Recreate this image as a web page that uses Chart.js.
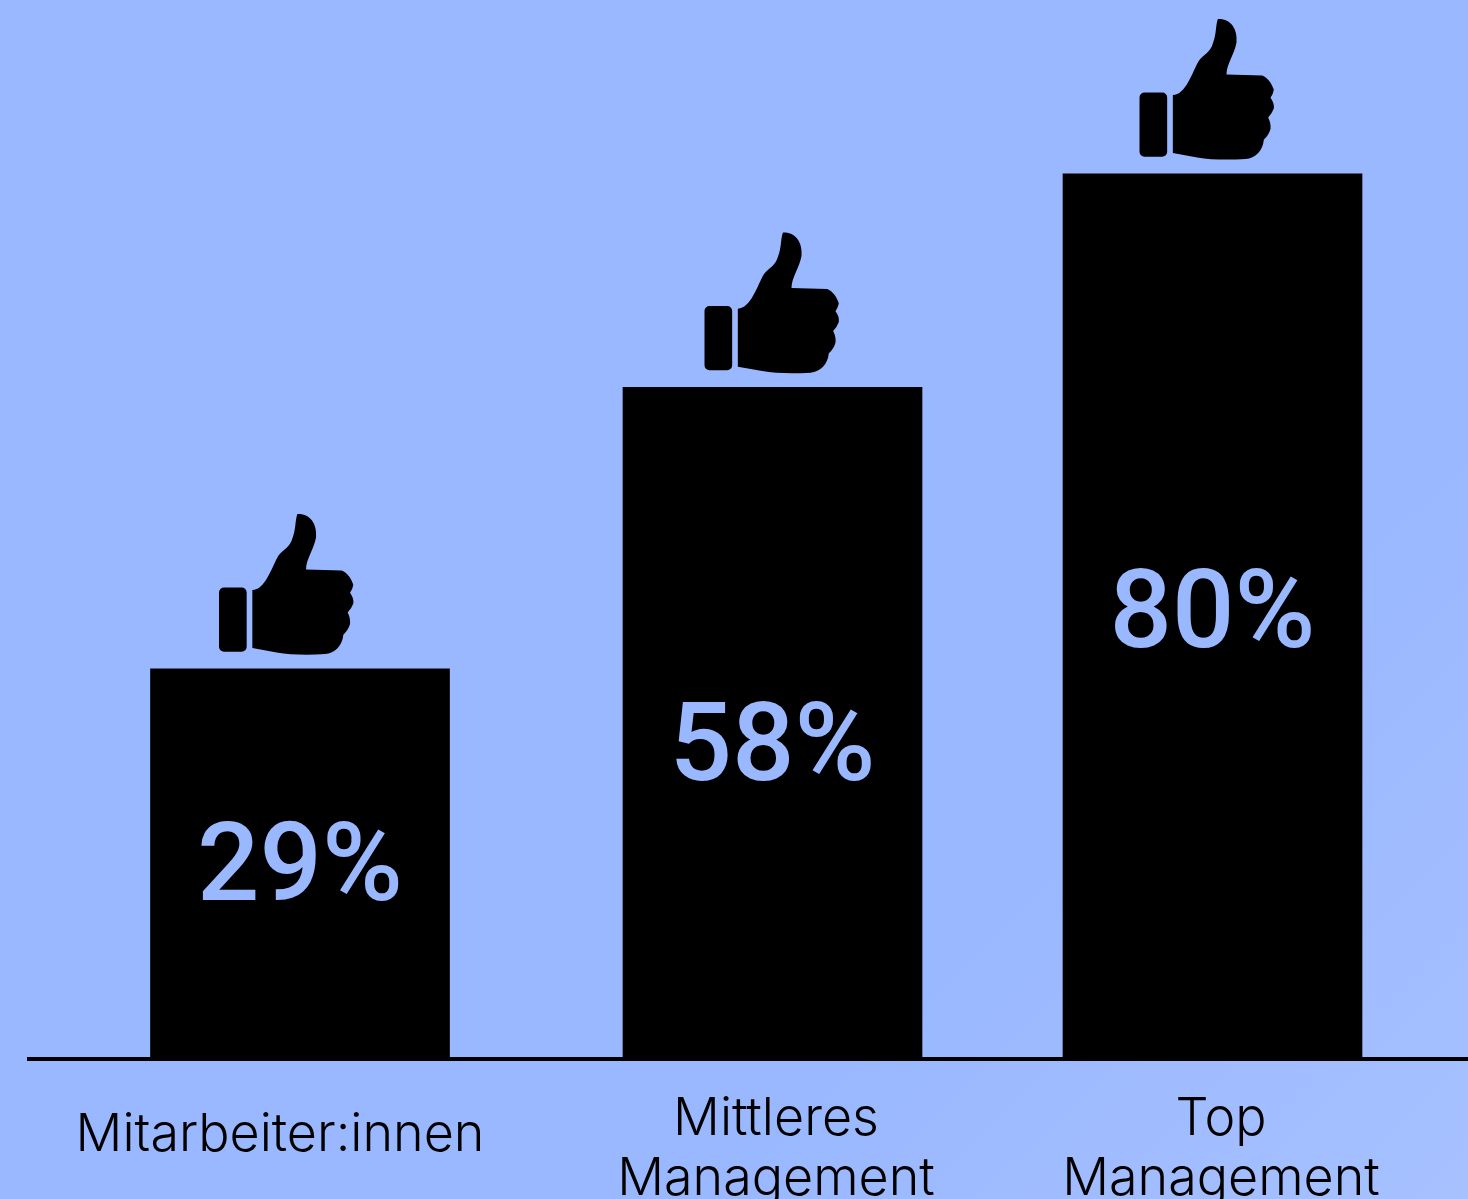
<!DOCTYPE html>
<html lang="de">
<head>
<meta charset="utf-8">
<title>Zustimmung nach Hierarchieebene</title>
<script src="https://cdn.jsdelivr.net/npm/chart.js@4/dist/chart.umd.min.js"></script>
<style>
  html, body { margin: 0; padding: 0; overflow: hidden; }
  body {
    width: 1468px; height: 1199px;
    background: linear-gradient(135deg, #9ab8ff 0%, #9ab8ff 72%, #a7c1ff 100%);
  }
  canvas { display: block; }
</style>
</head>
<body>
<canvas id="chart" width="1468" height="1199"></canvas>
<script>
// Chart data
const categories = ['Mitarbeiter:innen', ['Mittleres', 'Management'], ['Top', 'Management']];
const approvalPercent = [29, 58, 80];

// Layout of the horizontal axis, in units of one bar slot
const barSlots = [0, 1.0356, 2];
const labelSlots = [-0.0438, 1.0433, 2.0186];
const slotRange = [-0.594, 2.56];

// Value axis: the bars rise from below zero
const valueFloor = -11.2;
const valueCeiling = 97.9;

// Decoration placement per bar
const valueLabelHeight = [0.478, 0.457, 0.496];
const thumbShift = [-14, -1, -6];
const thumbGap = 14;
const labelColour = '#9ab8ff';

// Thumbs-up outline, about 135 by 140 px with origin at bottom centre
function thumbPath() {
  const p = new Path2D();
  const s = 1 / 3, ox = -258, oy = -452;
  const X = v => (v + ox) * s, Y = v => (v + oy) * s;
  p.roundRect(X(57), Y(250), 83 * s, 193 * s, 15 * s);
  p.moveTo(X(157), Y(258));
  p.bezierCurveTo(X(195), Y(258), X(215), Y(190), X(235), Y(155));
  p.bezierCurveTo(X(250), Y(135), X(270), Y(130), X(278), Y(100));
  p.bezierCurveTo(X(288), Y(75), X(285), Y(50), X(292), Y(30));
  p.bezierCurveTo(X(330), Y(28), X(352), Y(60), X(348), Y(100));
  p.bezierCurveTo(X(342), Y(135), X(318), Y(165), X(318), Y(196));
  p.lineTo(X(425), Y(199));
  p.bezierCurveTo(X(442), Y(205), X(455), Y(225), X(460), Y(242));
  p.quadraticCurveTo(X(458), Y(255), X(450), Y(266));
  p.quadraticCurveTo(X(462), Y(282), X(460), Y(298));
  p.quadraticCurveTo(X(455), Y(312), X(443), Y(325));
  p.quadraticCurveTo(X(452), Y(342), X(450), Y(360));
  p.quadraticCurveTo(X(445), Y(378), X(430), Y(392));
  p.bezierCurveTo(X(427), Y(425), X(405), Y(448), X(375), Y(450));
  p.bezierCurveTo(X(320), Y(453), X(270), Y(452), X(230), Y(445));
  p.lineTo(X(157), Y(432));
  p.closePath();
  return p;
}

// Draws the percentage inside each bar and the thumb above it
const barDecorations = {
  id: 'barDecorations',
  afterDatasetsDraw(chart) {
    const { ctx } = chart;
    const thumb = thumbPath();
    chart.getDatasetMeta(0).data.forEach((bar, i) => {
      const base = bar.base, top = bar.y;
      ctx.save();
      ctx.fillStyle = labelColour;
      ctx.font = '500 110px Roboto, sans-serif';
      ctx.textAlign = 'center';
      ctx.textBaseline = 'middle';
      ctx.fillText(approvalPercent[i] + '%', bar.x, base - (base - top) * valueLabelHeight[i]);
      ctx.translate(bar.x + thumbShift[i], top - thumbGap);
      ctx.fillStyle = '#000';
      ctx.fill(thumb);
      ctx.restore();
    });
  }
};

new Chart(document.getElementById('chart'), {
  type: 'bar',
  data: {
    datasets: [{
      data: approvalPercent.map((v, i) => ({ x: barSlots[i], y: v })),
      base: valueFloor,
      backgroundColor: '#000',
      borderWidth: 0,
      barThickness: 299
    }]
  },
  plugins: [barDecorations],
  options: {
    responsive: false,
    animation: false,
    layout: { padding: { left: 29, right: 0, top: 0, bottom: 0 } },
    plugins: { legend: { display: false }, tooltip: { enabled: false } },
    scales: {
      x: {
        type: 'linear',
        offset: false,
        min: slotRange[0],
        max: slotRange[1],
        afterBuildTicks: scale => { scale.ticks = labelSlots.map(value => ({ value })); },
        afterFit: scale => { scale.height = 140; },
        grid: { display: false, drawTicks: false },
        border: { display: true, color: '#000', width: 4 },
        ticks: {
          autoSkip: false,
          maxRotation: 0,
          minRotation: 0,
          padding: 30,
          color: '#000',
          callback: (value, i) => categories[i],
          // The single-line label sits a little lower than the two-line ones
          font: ctx => ({
            family: 'Inter, sans-serif',
            size: 52,
            weight: 300,
            lineHeight: Array.isArray(categories[ctx.index]) ? '60px' : '92px'
          })
        }
      },
      y: {
        display: false,
        min: valueFloor,
        max: valueCeiling
      }
    }
  }
});
</script>
</body>
</html>
